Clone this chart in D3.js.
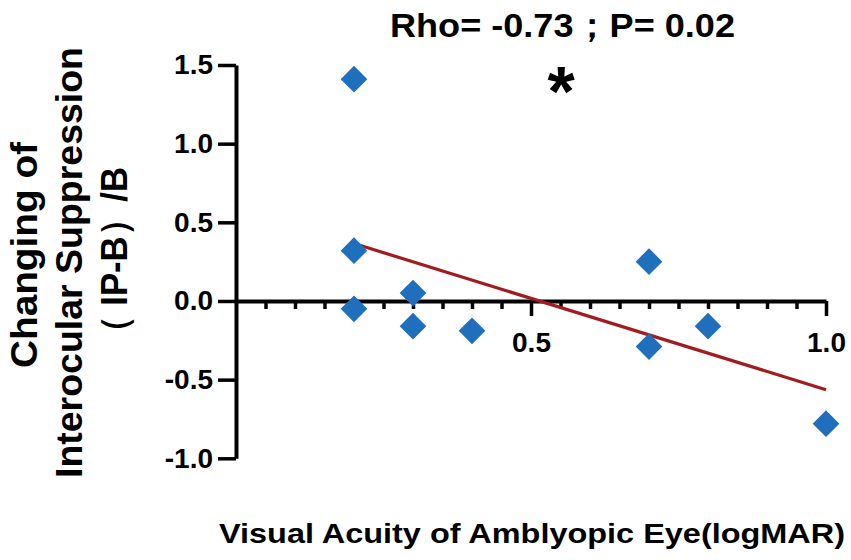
<!DOCTYPE html>
<html>
<head>
<meta charset="utf-8">
<script src="https://cdn.jsdelivr.net/npm/d3@7"></script>
<style>
  html, body { margin: 0; padding: 0; background: #fff; }
  svg { display: block; font-family: "Liberation Sans", Arial, sans-serif; font-weight: bold; }
</style>
</head>
<body>
<div id="chart"></div>
<script>
// Data
const acuity = [0.2, 0.2, 0.2, 0.3, 0.3, 0.4, 0.7, 0.7, 0.8, 1.0];
const suppressionChange = [1.41, 0.32, -0.05, 0.05, -0.16, -0.19, 0.25, -0.29, -0.16, -0.78];
const yTicks = [-1.0, -0.5, 0.0, 0.5, 1.0, 1.5];
const xMajorTicks = [0.5, 1.0];
const xMinorTicks = [0.05, 0.1, 0.15, 0.2, 0.25, 0.3, 0.35, 0.4, 0.45, 0.55, 0.6, 0.65, 0.7, 0.75, 0.8, 0.85, 0.9, 0.95];
const titleText = "Rho= -0.73；P= 0.02";
const yTitleLines = ["Changing of", "Interocular Suppression", "（ IP-B）/B"];
const xTitleText = "Visual Acuity of Amblyopic Eye(logMAR)";

const W = 851, H = 560;
const COLORS = { point: "#1f6fbd", fit: "#a21c1f", axis: "#000" };

// plain hyphen for negatives, like the original figure
const fmt = d => d3.format(".1f")(d).replace("\u2212", "-");

const svg = d3.select("#chart").append("svg")
    .attr("width", W)
    .attr("height", H)
    .attr("viewBox", [0, 0, W, H]);

const x = d3.scaleLinear().domain([0, 1]).range([236, 826]);
const y = d3.scaleLinear().domain([-1, 1.5]).range([458.3, 65]);

// y axis
const yAxis = svg.append("g")
    .attr("transform", `translate(${x(0)},0)`)
    .call(d3.axisLeft(y).tickValues(yTicks).tickSize(18).tickSizeOuter(0)
        .tickPadding(5).tickFormat(fmt));

// x axis at y = 0, minor ticks
const xMinor = svg.append("g")
    .attr("transform", `translate(0,${y(0)})`)
    .call(d3.axisBottom(x).tickValues(xMinorTicks).tickSize(8).tickSizeOuter(0).tickFormat(""));

// x axis major ticks with labels
const xMajor = svg.append("g")
    .attr("transform", `translate(0,${y(0)})`)
    .call(d3.axisBottom(x).tickValues(xMajorTicks).tickSize(15).tickSizeOuter(0)
        .tickPadding(16).tickFormat(fmt));
xMajor.select(".domain").remove();

[yAxis, xMinor, xMajor].forEach(g => {
    g.selectAll(".domain").attr("stroke", COLORS.axis).attr("stroke-width", 4);
    g.selectAll(".tick line").attr("stroke", COLORS.axis).attr("stroke-width", 3.5);
    g.selectAll(".tick text")
        .attr("fill", COLORS.axis)
        .attr("font-size", 28)
        .attr("font-weight", "bold")
        .attr("font-family", "Liberation Sans, Arial, sans-serif");
});

// least-squares fit line from the data
const mx = d3.mean(acuity), my = d3.mean(suppressionChange);
const sxy = d3.sum(acuity, (v, i) => (v - mx) * (suppressionChange[i] - my));
const sxx = d3.sum(acuity, v => (v - mx) ** 2);
const slope = sxy / sxx, intercept = my - slope * mx;
const xExt = d3.extent(acuity);

svg.append("line")
    .attr("x1", x(xExt[0])).attr("y1", y(intercept + slope * xExt[0]))
    .attr("x2", x(xExt[1])).attr("y2", y(intercept + slope * xExt[1]))
    .attr("stroke", COLORS.fit)
    .attr("stroke-width", 3.2);

// diamond markers
const diamond = d3.symbol().type(d3.symbolSquare).size(356);
svg.append("g")
    .selectAll("path")
    .data(acuity.map((v, i) => [v, suppressionChange[i]]))
    .join("path")
    .attr("d", diamond)
    .attr("transform", d => `translate(${x(d[0])},${y(d[1])}) rotate(45)`)
    .attr("fill", COLORS.point);

// title and significance mark
svg.append("text")
    .attr("x", 390).attr("y", 37)
    .attr("font-size", 34)
    .attr("textLength", 345)
    .attr("lengthAdjust", "spacingAndGlyphs")
    .text(titleText);

svg.append("text")
    .attr("x", 561).attr("y", 116)
    .attr("text-anchor", "middle")
    .attr("font-size", 70)
    .text("*");

// y axis title (three lines)
const yLines = [
    { x: 37, cy: 255, len: 226 },
    { x: 82, cy: 262.5, len: 431 },
    { x: 127, cy: 258.5, len: 183 }
];
yTitleLines.forEach((t, i) => {
    const p = yLines[i];
    svg.append("text")
        .attr("transform", `translate(${p.x},${p.cy + p.len / 2}) rotate(-90)`)
        .attr("font-size", 37)
        .attr("textLength", p.len)
        .attr("lengthAdjust", "spacingAndGlyphs")
        .text(t);
});

// x axis title
svg.append("text")
    .attr("x", 219).attr("y", 543)
    .attr("font-size", 28)
    .attr("textLength", 626)
    .attr("lengthAdjust", "spacingAndGlyphs")
    .text(xTitleText);
</script>
</body>
</html>
